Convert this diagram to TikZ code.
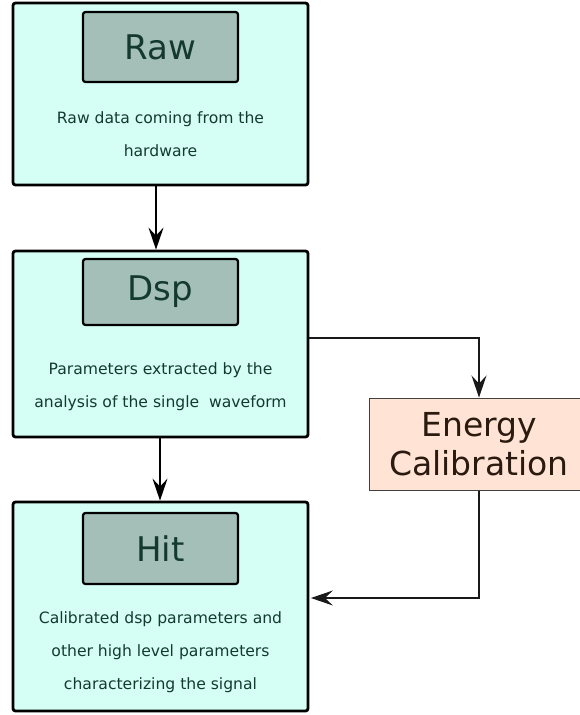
\documentclass[tikz,border=0pt]{standalone}
\usepackage{fontspec}
\setmainfont{DejaVu Sans}
\usetikzlibrary{arrows.meta,calc}
\definecolor{mint}{HTML}{D5FFF5}
\definecolor{sage}{HTML}{A3BFB8}
\definecolor{dkgreen}{HTML}{143A2F}
\definecolor{peach}{HTML}{FFE4D5}
\definecolor{dkbrown}{HTML}{2B1A10}
\tikzset{
  outerbox/.style={draw=black, line width=2.8pt, fill=mint, rounded corners=2.5pt, minimum width=295pt, inner sep=0pt},
  innerbox/.style={draw=black, line width=2.2pt, fill=sage, rounded corners=2.5pt, minimum width=155pt, inner sep=0pt, text=dkgreen, font=\fontsize{34}{40}\selectfont},
  desc/.style={text=dkgreen, align=center, font=\fontsize{15.6}{33}\selectfont, inner sep=0pt},
  calib/.style={draw=black!75, line width=1pt, fill=peach, minimum width=220pt, minimum height=92pt, inner sep=0pt, text=dkbrown, align=center, font=\fontsize{33}{39}\selectfont},
  conn/.style={draw=black, line width=1.5pt, -{Stealth[length=22pt,width=15pt,inset=8pt]}},
  thinconn/.style={draw=black!90, line width=1.1pt, -{Stealth[length=22pt,width=15pt,inset=8pt]}}
}
\begin{document}
\begin{tikzpicture}[x=1pt,y=-1pt]
\useasboundingbox (0,0) rectangle (580,715);
\clip (0,0) rectangle (580,715);
% Raw
\node[outerbox, minimum height=182pt] (rawbox) at (160.5,94) {};
\node[innerbox, minimum height=70pt] (raw) at (160.5,47) {Raw};
\node[desc] (rawtxt) at (160.5,134) {Raw data coming from the\\hardware};
% Dsp
\node[outerbox, minimum height=186pt] (dspbox) at (160.5,344) {};
\node[innerbox, minimum height=66pt] (dsp) at (160.5,292) {Dsp};
\node[desc] (dsptxt) at (160.5,387) {Parameters extracted by the\\analysis of the single\ \ waveform};
% Hit
\node[outerbox, minimum height=209pt] (hitbox) at (160.5,606.5) {};
\node[innerbox, minimum height=71pt] (hit) at (160.5,548.5) {Hit};
\node[desc] (hittxt) at (160.5,652) {Calibrated dsp parameters and\\other high level parameters\\characterizing the signal};
% Energy calibration
\node[calib] (ecal) at (479,444) {Energy\\Calibration};
\coordinate (dspout) at ($(dspbox.east)+(0,-6)$);
\coordinate (hitin) at ($(hitbox.east)+(1.5,-8.5)$);
% connectors
\draw[conn] ($(rawbox.south)+(-4.5,0)$) -- ($(dspbox.north)+(-4.5,0)$);
\draw[conn] ($(dspbox.south)+(-0.5,0)$) -- ($(hitbox.north)+(-0.5,0)$);
\draw[thinconn] (dspout) -| (ecal.north);
\draw[thinconn] (ecal.south) |- (hitin);
\end{tikzpicture}
\end{document}
